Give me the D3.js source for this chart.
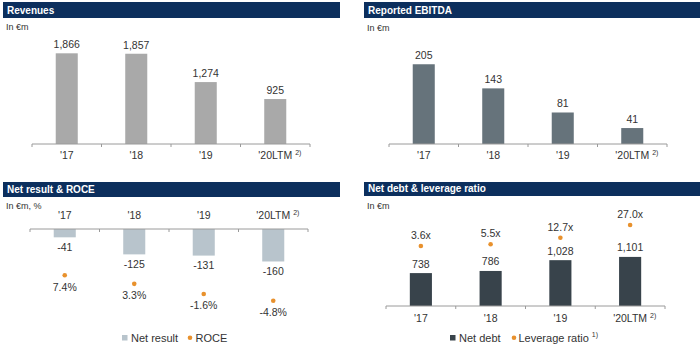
<!DOCTYPE html>
<html><head><meta charset="utf-8">
<script src="https://cdn.jsdelivr.net/npm/d3@7"></script>
<style>
body{margin:0;background:#fff;}
text{font-family:"Liberation Sans",Arial,sans-serif;fill:#333;}
</style></head>
<body><svg id="c" width="700" height="355"></svg>
<script>
// ---- data ----
const categories = ["'17", "'18", "'19", "'20LTM"];
const categoryNotes = ["", "", "", "2)"];
const revenues = [1866, 1857, 1274, 925];
const ebitda = [205, 143, 81, 41];
const netResult = [-41, -125, -131, -160];
const roce = [7.4, 3.3, -1.6, -4.8];
const netDebt = [738, 786, 1028, 1101];
const leverage = [3.6, 5.5, 12.7, 27.0];

const titles = ["Revenues", "Reported EBITDA", "Net result & ROCE", "Net debt & leverage ratio"];
const units = ["In €m", "In €m", "In €m, %", "In €m"];

const svg = d3.select("#c");
const NAVY = "#0c2f5d", ORANGE = "#e8912d", AXIS = "#9a9a9a";
const fmt = d3.format(",");

function header(x0, x1, y0, y1, title, unit, unitY) {
  svg.append("rect").attr("x", x0).attr("y", y0).attr("width", x1 - x0).attr("height", y1 - y0).attr("fill", NAVY);
  svg.append("text").attr("x", x0 + 4).attr("y", y1 - 4).style("fill", "#fff").style("font-weight", "bold")
    .style("font-size", "10px").text(title);
  svg.append("text").attr("x", x0 + 3).attr("y", unitY).style("font-size", "9px").text(unit);
}

function bandScale(x0, x1) {
  return d3.scaleBand().domain(categories).range([x0, x1]).paddingInner(0.683).paddingOuter(0.3415);
}

function catAxis(x, axisY, labelY) {
  const g = svg.append("g");
  const [r0, r1] = x.range();
  g.append("line").attr("x1", r0).attr("x2", r1).attr("y1", axisY).attr("y2", axisY).attr("stroke", AXIS).attr("stroke-width", 1);
  const bounds = d3.range(categories.length + 1).map(i => r0 + i * x.step());
  g.selectAll("line.t").data(bounds).join("line").attr("class", "t")
    .attr("x1", d => d).attr("x2", d => d).attr("y1", axisY).attr("y2", axisY + 3).attr("stroke", AXIS);
  categories.forEach((c, i) => {
    const cx = x(c) + x.bandwidth() / 2;
    const t = g.append("text").attr("x", cx).attr("y", labelY).attr("text-anchor", "middle")
      .style("font-size", "10.5px").text(c);
    if (categoryNotes[i]) {
      const w = t.node().getComputedTextLength();
      g.append("text").attr("x", cx + w / 2 + 3).attr("y", labelY - 4).style("font-size", "7px").text(categoryNotes[i]);
    }
  });
}

// ---- Panel 1: Revenues ----
header(3, 340, 2, 18, titles[0], units[0], 30);
{
  const x = bandScale(32, 310);
  const y = d3.scaleLinear().domain([0, 2000]).range([144, 46.8]);
  svg.append("g").selectAll("rect").data(revenues).join("rect")
    .attr("x", (d, i) => x(categories[i])).attr("width", x.bandwidth())
    .attr("y", d => y(d)).attr("height", d => y(0) - y(d)).attr("fill", "#a9a9a9");
  svg.append("g").selectAll("text").data(revenues).join("text")
    .attr("x", (d, i) => x(categories[i]) + x.bandwidth() / 2).attr("y", d => y(d) - 5)
    .attr("text-anchor", "middle").style("font-size", "10.5px").text(d => fmt(d));
  catAxis(x, 144, 159);
}

// ---- Panel 2: EBITDA ----
header(364, 700, 2, 18, titles[1], units[1], 31);
{
  const x = bandScale(389, 667);
  const y = d3.scaleLinear().domain([0, 250]).range([144, 46.75]);
  svg.append("g").selectAll("rect").data(ebitda).join("rect")
    .attr("x", (d, i) => x(categories[i])).attr("width", x.bandwidth())
    .attr("y", d => y(d)).attr("height", d => y(0) - y(d)).attr("fill", "#66737b");
  svg.append("g").selectAll("text").data(ebitda).join("text")
    .attr("x", (d, i) => x(categories[i]) + x.bandwidth() / 2).attr("y", d => y(d) - 5.5)
    .attr("text-anchor", "middle").style("font-size", "10.5px").text(d => fmt(d));
  catAxis(x, 144, 159);
}

// ---- Panel 3: Net result & ROCE ----
header(3, 340, 182, 197, titles[2], units[2], 209);
{
  const x = bandScale(30, 308);
  const y = d3.scaleLinear().domain([-200, 0]).range([269.6, 229]);
  const y2 = d3.scaleLinear().domain([-10, 10]).range([311.5, 269.9]);
  svg.append("g").selectAll("rect").data(netResult).join("rect")
    .attr("x", (d, i) => x(categories[i])).attr("width", x.bandwidth())
    .attr("y", y(0)).attr("height", d => y(d) - y(0)).attr("fill", "#b8c4cc");
  svg.append("g").selectAll("text").data(netResult).join("text")
    .attr("x", (d, i) => x(categories[i]) + x.bandwidth() / 2).attr("y", d => y(d) + 13.7)
    .attr("text-anchor", "middle").style("font-size", "10.5px").text(d => d);
  svg.append("g").selectAll("circle").data(roce).join("circle")
    .attr("cx", (d, i) => x(categories[i]) + x.bandwidth() / 2).attr("cy", d => y2(d)).attr("r", 2.3).attr("fill", ORANGE);
  svg.append("g").selectAll("text").data(roce).join("text")
    .attr("x", (d, i) => x(categories[i]) + x.bandwidth() / 2).attr("y", d => y2(d) + 15.2)
    .attr("text-anchor", "middle").style("font-size", "10.5px").text(d => d.toFixed(1) + "%");
  // axis line on top with labels above
  const [r0, r1] = x.range();
  svg.append("line").attr("x1", r0).attr("x2", r1).attr("y1", 229).attr("y2", 229).attr("stroke", AXIS);
  d3.range(categories.length + 1).forEach(i => {
    svg.append("line").attr("x1", r0 + i * x.step()).attr("x2", r0 + i * x.step()).attr("y1", 229).attr("y2", 232).attr("stroke", AXIS);
  });
  categories.forEach((c, i) => {
    const cx = x(c) + x.bandwidth() / 2;
    const t = svg.append("text").attr("x", cx).attr("y", 219.3).attr("text-anchor", "middle").style("font-size", "10.5px").text(c);
    if (categoryNotes[i]) {
      const w = t.node().getComputedTextLength();
      svg.append("text").attr("x", cx + w / 2 + 3).attr("y", 215.3).style("font-size", "7px").text(categoryNotes[i]);
    }
  });
  // legend
  svg.append("rect").attr("x", 122).attr("y", 335).attr("width", 5.5).attr("height", 5.5).attr("fill", "#b8c4cc");
  svg.append("text").attr("x", 131).attr("y", 341.5).style("font-size", "11px").text("Net result");
  svg.append("circle").attr("cx", 190).attr("cy", 337.8).attr("r", 2.3).attr("fill", ORANGE);
  svg.append("text").attr("x", 195.5).attr("y", 341.5).style("font-size", "11px").text("ROCE");
}

// ---- Panel 4: Net debt & leverage ----
header(364, 700, 182, 196, titles[3], units[3], 209);
{
  const x = bandScale(386, 665);
  const y = d3.scaleLinear().domain([0, 1200]).range([306, 252.5]);
  const y2 = d3.scaleLinear().domain([0, 30]).range([249.2, 222.3]);
  svg.append("g").selectAll("rect").data(netDebt).join("rect")
    .attr("x", (d, i) => x(categories[i])).attr("width", x.bandwidth())
    .attr("y", d => y(d)).attr("height", d => y(0) - y(d)).attr("fill", "#38434b");
  svg.append("g").selectAll("text").data(netDebt).join("text")
    .attr("x", (d, i) => x(categories[i]) + x.bandwidth() / 2).attr("y", d => y(d) - 5.5)
    .attr("text-anchor", "middle").style("font-size", "10.5px").text(d => fmt(d));
  svg.append("g").selectAll("circle").data(leverage).join("circle")
    .attr("cx", (d, i) => x(categories[i]) + x.bandwidth() / 2).attr("cy", d => y2(d)).attr("r", 2.3).attr("fill", ORANGE);
  svg.append("g").selectAll("text").data(leverage).join("text")
    .attr("x", (d, i) => x(categories[i]) + x.bandwidth() / 2).attr("y", d => y2(d) - 7.2)
    .attr("text-anchor", "middle").style("font-size", "10.5px").text(d => d.toFixed(1) + "x");
  catAxis(x, 306, 321.5);
  // legend
  svg.append("rect").attr("x", 450).attr("y", 335).attr("width", 5.5).attr("height", 5.5).attr("fill", "#38434b");
  svg.append("text").attr("x", 459).attr("y", 341.5).style("font-size", "11px").text("Net debt");
  svg.append("circle").attr("cx", 514).attr("cy", 337.8).attr("r", 2.3).attr("fill", ORANGE);
  const lt = svg.append("text").attr("x", 518.5).attr("y", 341.5).style("font-size", "11px").text("Leverage ratio");
  const lw = lt.node().getComputedTextLength();
  svg.append("text").attr("x", 518.5 + lw + 3).attr("y", 337).style("font-size", "7px").text("1)");
}
</script></body></html>
